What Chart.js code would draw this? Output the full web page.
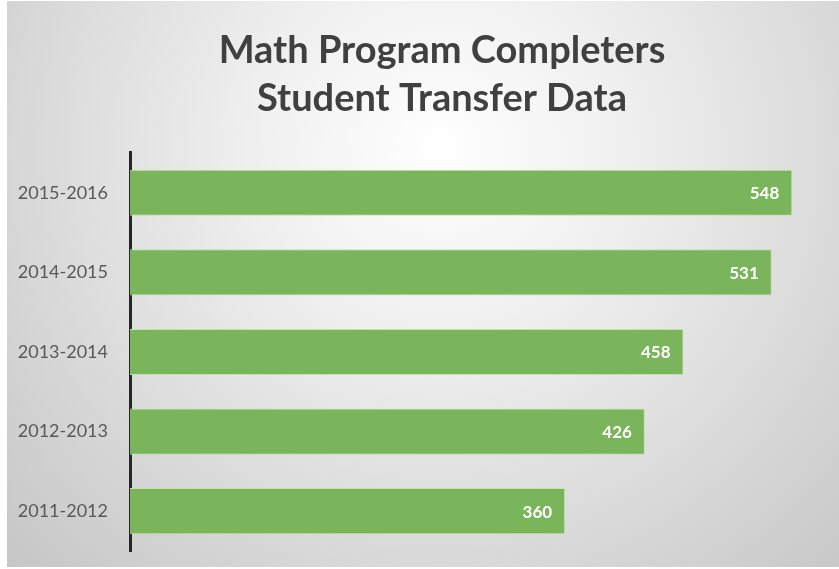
<!DOCTYPE html>
<html>
<head>
<meta charset="utf-8">
<script src="https://cdn.jsdelivr.net/npm/chart.js@4/dist/chart.umd.min.js"></script>
<style>
  html, body { margin: 0; padding: 0; background: #ffffff; }
  canvas { display: block; }
</style>
</head>
<body>
<canvas id="c" width="839" height="569"></canvas>
<script>
const titleLines = ['Math Program Completers', 'Student Transfer Data'];
const categories = ['2015-2016', '2014-2015', '2013-2014', '2012-2013', '2011-2012'];
const transfers = [548, 531, 458, 426, 360];

const bgPlugin = {
  id: 'bg',
  beforeDraw(chart) {
    const ctx = chart.ctx;
    const w = chart.width, h = chart.height;
    ctx.save();
    ctx.fillStyle = '#ffffff';
    ctx.fillRect(0, 0, w, h);
    const g = ctx.createRadialGradient(440, 150, 0, 440, 150, 600);
    g.addColorStop(0, '#ffffff');
    g.addColorStop(0.3, '#f0f0f0');
    g.addColorStop(1, '#c6c6c6');
    ctx.fillStyle = g;
    ctx.fillRect(7, 1, w - 7, 566);
    ctx.restore();
  }
};

const titleShift = {
  id: 'titleShift',
  afterLayout(chart) {
    const t = chart.titleBlock;
    if (t) { t.left = 53; t.right = 831; t.width = 778; }
  }
};

const valueLabels = {
  id: 'valueLabels',
  afterDatasetsDraw(chart) {
    const ctx = chart.ctx;
    const meta = chart.getDatasetMeta(0);
    ctx.save();
    ctx.font = 'bold 17px Lato';
    ctx.fillStyle = '#ffffff';
    ctx.textAlign = 'right';
    ctx.textBaseline = 'middle';
    meta.data.forEach((bar, i) => {
      ctx.fillText(String(chart.data.datasets[0].data[i]), bar.x - 13, bar.y + 1);
    });
    ctx.restore();
  }
};

new Chart(document.getElementById('c'), {
  type: 'bar',
  data: {
    labels: categories,
    datasets: [{
      data: transfers,
      backgroundColor: '#7ab55c',
      borderColor: '#c4e0ae',
      borderWidth: 1,
      borderSkipped: 'left',
      barPercentage: 0.58,
      categoryPercentage: 1.0
    }]
  },
  options: {
    indexAxis: 'y',
    responsive: false,
    animation: false,
    layout: { padding: { left: 7, right: 8, top: 0, bottom: 18 } },
    plugins: {
      legend: { display: false },
      tooltip: { enabled: false },
      title: {
        display: true,
        text: titleLines,
        color: '#404040',
        font: { family: 'Lato', size: 38, weight: 'bold', lineHeight: 1.263 },
        padding: { top: 27, bottom: 30 }
      }
    },
    scales: {
      x: {
        display: false,
        min: 0,
        max: 580
      },
      y: {
        afterFit(scale) { scale.width = 123; scale.paddingTop = 0; scale.paddingBottom = 0; },
        grid: { display: false, drawTicks: false },
        border: { display: true, color: '#262626', width: 3 },
        ticks: {
          color: '#595959',
          padding: 22,
          font: { family: 'Lato', size: 18 }
        }
      }
    }
  },
  plugins: [bgPlugin, titleShift, valueLabels]
});
</script>
</body>
</html>
